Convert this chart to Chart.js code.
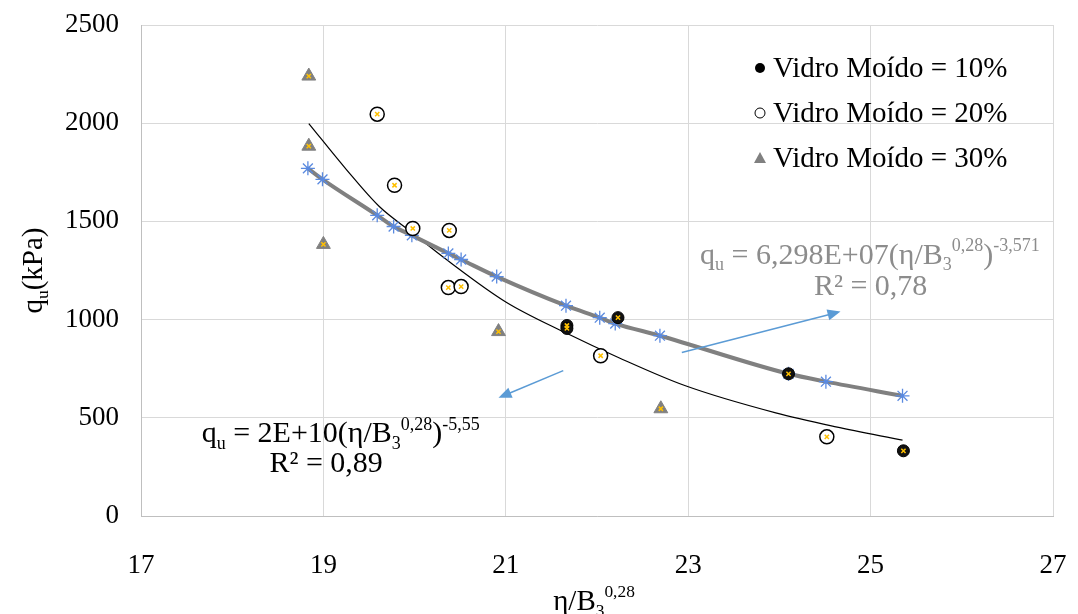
<!DOCTYPE html>
<html>
<head>
<meta charset="utf-8">
<script src="https://cdn.jsdelivr.net/npm/chart.js@4.4.1/dist/chart.umd.min.js"></script>
<style>
html, body { margin: 0; padding: 0; background: #fff; }
</style>
</head>
<body>
<canvas id="chart" width="1078" height="614"></canvas>
<script>
// ground glass contents, eta/B3^0.28 vs qu (kPa)
const x10 = [21.67, 21.67, 22.23, 24.10, 25.36];
const y10 = [970, 955, 1010, 724, 332];
const x20 = [19.59, 19.78, 19.98, 20.38, 20.37, 20.51, 22.04, 24.52];
const y20 = [2046, 1684, 1464, 1454, 1163, 1168, 816, 403];
const x30 = [18.84, 18.84, 19.00, 20.92, 22.70];
const y30 = [2240, 1883, 1383, 939, 546];

// fitted values (blue asterisks on the grey curve)
const xFit = [18.83, 18.99, 19.59, 19.77, 19.97, 20.37, 20.51, 20.90, 21.66, 22.03, 22.20, 22.69, 24.10, 24.51, 25.35];
const yFit = [1770, 1714, 1531, 1474, 1429, 1337, 1306, 1219, 1071, 1010, 980, 918, 724, 684, 612];

// black power trend line
const xTrend = [18.84, 19.25, 19.61, 19.97, 20.36, 21.00, 21.65, 22.24, 22.97, 23.96, 24.62, 25.35];
const yTrend = [1998, 1765, 1577, 1444, 1302, 1090, 934, 806, 663, 525, 454, 386];

const legendLabels = ["Vidro Moído = 10%", "Vidro Moído = 20%", "Vidro Moído = 30%"];
const xTicks = [17, 19, 21, 23, 25, 27];
const yTicks = [0, 500, 1000, 1500, 2000, 2500];

// arrows between equations and curves (data coords)
const arrowFrom = [[21.63, 740], [22.93, 832]];
const arrowTo = [[20.92, 602], [24.67, 1041]];

const FONT = "'Liberation Serif', 'Times New Roman', serif";

function pts(xs, ys) {
    return xs.map((x, i) => ({ x: x, y: ys[i] }));
}

const allX = x10.concat(x20, x30);
const allY = y10.concat(y20, y30);

function drawRich(ctx, parts, x, y, size, color, align) {
    let total = 0;
    parts.forEach(p => {
        const s = (p.sub || p.sup) ? size * 0.6 : size;
        ctx.font = s + "px " + FONT;
        p.w = ctx.measureText(p.t).width;
        total += p.w;
    });
    let cx = align === "center" ? x - total / 2 : x;
    const base = y + size * 0.33;
    ctx.fillStyle = color;
    ctx.textAlign = "left";
    ctx.textBaseline = "alphabetic";
    parts.forEach(p => {
        const s = (p.sub || p.sup) ? size * 0.6 : size;
        ctx.font = s + "px " + FONT;
        let dy = 0;
        if (p.sub) dy = size * 0.22;
        if (p.sup) dy = -size * 0.42;
        ctx.fillText(p.t, cx, base + dy);
        cx += p.w;
    });
}

function arrow(ctx, x1, y1, x2, y2) {
    const a = Math.atan2(y2 - y1, x2 - x1);
    const L = 13, W = 5.5;
    ctx.beginPath();
    ctx.moveTo(x1, y1);
    ctx.lineTo(x2 - L * Math.cos(a) * 0.8, y2 - L * Math.sin(a) * 0.8);
    ctx.stroke();
    ctx.beginPath();
    ctx.moveTo(x2, y2);
    ctx.lineTo(x2 - L * Math.cos(a) + W * Math.sin(a), y2 - L * Math.sin(a) - W * Math.cos(a));
    ctx.lineTo(x2 - L * Math.cos(a) - W * Math.sin(a), y2 - L * Math.sin(a) + W * Math.cos(a));
    ctx.closePath();
    ctx.fill();
}

const extras = {
    id: "extras",
    afterDatasetsDraw(chart) {
        const ctx = chart.ctx;
        const xs = chart.scales.x, ys = chart.scales.y;
        const area = chart.chartArea;
        ctx.save();

        // arrows
        ctx.strokeStyle = "#5b9bd5";
        ctx.fillStyle = "#5b9bd5";
        ctx.lineWidth = 1.5;
        arrowFrom.forEach((f, i) => {
            arrow(ctx, xs.getPixelForValue(f[0]), ys.getPixelForValue(f[1]),
                xs.getPixelForValue(arrowTo[i][0]), ys.getPixelForValue(arrowTo[i][1]));
        });

        // equations
        drawRich(ctx, [{ t: "q" }, { t: "u", sub: true }, { t: " = 6,298E+07(η/B" }, { t: "3", sub: true },
            { t: "0,28", sup: true }, { t: ")" }, { t: "-3,571", sup: true }],
            xs.getPixelForValue(23.13), ys.getPixelForValue(1335), 30, "#8c8c8c", "left");
        drawRich(ctx, [{ t: "R² = 0,78" }], xs.getPixelForValue(25.0), ys.getPixelForValue(1175), 30, "#8c8c8c", "center");
        drawRich(ctx, [{ t: "q" }, { t: "u", sub: true }, { t: " = 2E+10(η/B" }, { t: "3", sub: true },
            { t: "0,28", sup: true }, { t: ")" }, { t: "-5,55", sup: true }],
            xs.getPixelForValue(19.19), ys.getPixelForValue(426), 30, "#000", "center");
        drawRich(ctx, [{ t: "R² = 0,89" }], xs.getPixelForValue(19.03), ys.getPixelForValue(273), 30, "#000", "center");

        // legend
        const lx = area.right - 293, ly0 = area.top + 43, gap = 45;
        legendLabels.forEach((lab, i) => {
            const cy = ly0 + i * gap;
            ctx.lineWidth = 1;
            if (i === 0) {
                ctx.fillStyle = "#000";
                ctx.beginPath(); ctx.arc(lx, cy, 5, 0, Math.PI * 2); ctx.fill();
            } else if (i === 1) {
                ctx.fillStyle = "#fff"; ctx.strokeStyle = "#000";
                ctx.beginPath(); ctx.arc(lx, cy, 5, 0, Math.PI * 2); ctx.fill(); ctx.stroke();
            } else {
                ctx.fillStyle = "#808080";
                ctx.beginPath(); ctx.moveTo(lx, cy - 6); ctx.lineTo(lx + 6, cy + 5); ctx.lineTo(lx - 6, cy + 5);
                ctx.closePath(); ctx.fill();
            }
            ctx.font = "29px " + FONT;
            ctx.fillStyle = "#000";
            ctx.textAlign = "left";
            ctx.textBaseline = "middle";
            ctx.fillText(lab, lx + 13, cy + 1);
        });

        // axis titles
        ctx.save();
        ctx.translate(32, (area.top + area.bottom) / 2);
        ctx.rotate(-Math.PI / 2);
        drawRich(ctx, [{ t: "q" }, { t: "u", sub: true }, { t: "(kPa)" }], 0, 0, 29, "#000", "center");
        ctx.restore();
        drawRich(ctx, [{ t: "η/B" }, { t: "3", sub: true }, { t: "0,28", sup: true }], 594, 600, 29, "#000", "center");

        ctx.restore();
    }
};

new Chart(document.getElementById("chart"), {
    type: "scatter",
    data: {
        datasets: [{
            label: "cross",
            data: pts(allX, allY),
            pointStyle: "crossRot",
            pointRadius: 3,
            borderColor: "#ffc000",
            pointBorderWidth: 1.5,
            order: 0
        }, {
            label: legendLabels[0],
            data: pts(x10, y10),
            pointStyle: "circle",
            pointRadius: 6,
            backgroundColor: "#111",
            borderColor: "#000",
            pointBorderWidth: 1,
            order: 1
        }, {
            label: legendLabels[1],
            data: pts(x20, y20),
            pointStyle: "circle",
            pointRadius: 7,
            backgroundColor: "#fff",
            borderColor: "#000",
            pointBorderWidth: 1.5,
            order: 1
        }, {
            label: legendLabels[2],
            data: pts(x30, y30),
            pointStyle: "triangle",
            pointRadius: 8,
            backgroundColor: "#808080",
            borderColor: "#808080",
            pointBorderWidth: 1,
            order: 1
        }, {
            label: "fit",
            data: pts(xFit, yFit),
            showLine: true,
            cubicInterpolationMode: "monotone",
            borderColor: "#808080",
            borderWidth: 4,
            pointStyle: "star",
            pointRadius: 7,
            pointBorderColor: "#5a8ae0",
            pointBackgroundColor: "#5a8ae0",
            pointBorderWidth: 1.3,
            order: 2
        }, {
            label: "trend",
            data: pts(xTrend, yTrend),
            showLine: true,
            cubicInterpolationMode: "monotone",
            borderColor: "#000",
            borderWidth: 1.2,
            pointRadius: 0,
            order: 3
        }]
    },
    options: {
        responsive: false,
        animation: false,
        layout: { padding: { top: 25, right: 25, left: 0, bottom: 0 } },
        plugins: { legend: { display: false }, tooltip: { enabled: false } },
        scales: {
            x: {
                type: "linear",
                min: 17, max: 27,
                afterFit: s => { s.height = 98; s.paddingLeft = 0; s.paddingRight = 0; },
                afterBuildTicks: s => { s.ticks = xTicks.map(v => ({ value: v })); },
                grid: { color: "#d9d9d9", drawTicks: false },
                border: { color: "#bfbfbf" },
                ticks: { padding: 34, color: "#000", font: { family: FONT, size: 27 }, callback: v => String(v) }
            },
            y: {
                min: 0, max: 2500,
                afterFit: s => { s.width = 141; s.paddingTop = 0; s.paddingBottom = 0; },
                afterBuildTicks: s => { s.ticks = yTicks.map(v => ({ value: v })); },
                grid: { color: "#d9d9d9", drawTicks: false },
                border: { color: "#bfbfbf" },
                ticks: { padding: 22, color: "#000", font: { family: FONT, size: 27 }, callback: v => String(v) }
            }
        }
    },
    plugins: [extras]
});
</script>
</body>
</html>
